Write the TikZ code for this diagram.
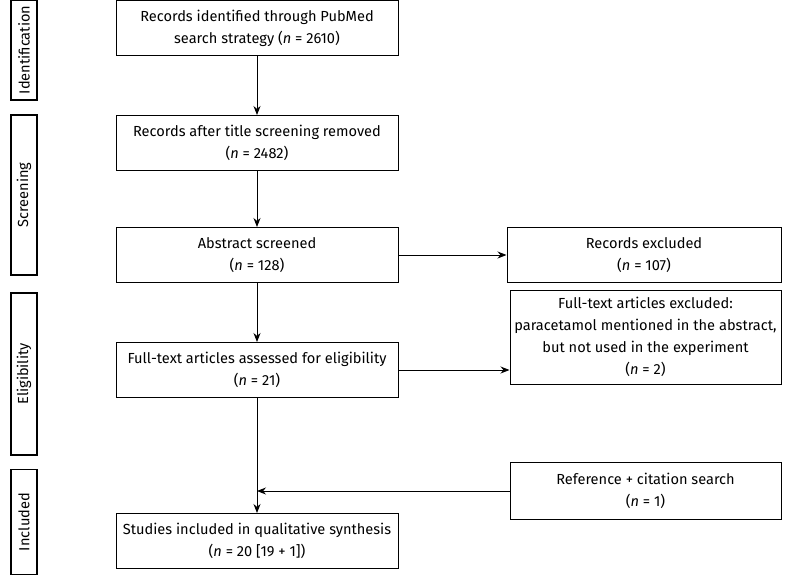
\documentclass[tikz,border=0pt]{standalone}
\usepackage{fontspec}
\setmainfont{Fira Sans}
\usetikzlibrary{arrows.meta}
\begin{document}
\begin{tikzpicture}[x=1pt,y=-1pt,
  box/.style={draw,line width=1pt,align=center,font=\fontsize{14.6}{22}\selectfont},
  side/.style={draw,line width=1.2pt,font=\fontsize{14.6}{16}\selectfont},
  arr/.style={-{Stealth[length=9pt,width=7pt]},line width=0.9pt}]
\useasboundingbox (0,0) rectangle (790,581);
% side labels
\node[side,minimum width=100pt,minimum height=26pt,rotate=90] (s1) at (24,50) {Identification};
\node[side,minimum width=160pt,minimum height=26pt,rotate=90] (s2) at (24,195) {Screening};
\node[side,minimum width=162pt,minimum height=26pt,rotate=90] (s3) at (24,374) {Eligibility};
\node[side,minimum width=105pt,minimum height=26pt,rotate=90] (s4) at (24,522) {Included};
% main boxes
\node[box,minimum width=282pt,minimum height=55pt] (b1) at (257,28) {Records identified through PubMed\\search strategy (\textit{n} = 2610)};
\node[box,minimum width=282pt,minimum height=55pt] (b2) at (257,143) {Records after title screening removed\\(\textit{n} = 2482)};
\node[box,minimum width=282pt,minimum height=55pt] (b3) at (257,255) {Abstract screened\\(\textit{n} = 128)};
\node[box,minimum width=282pt,minimum height=55pt] (b4) at (257,370) {Full-text articles assessed for eligibility\\(\textit{n} = 21)};
\node[box,minimum width=282pt,minimum height=55pt] (b5) at (257,541) {Studies included in qualitative synthesis\\(\textit{n} = 20 [19 + 1])};
% right boxes
\node[box,minimum width=274pt,minimum height=55pt] (r1) at (644,255) {Records excluded\\(\textit{n} = 107)};
\node[box,minimum width=271pt,minimum height=94pt] (r2) at (645.5,337) {Full-text articles excluded:\\paracetamol mentioned in the abstract,\\but not used in the experiment\\(\textit{n} = 2)};
\node[box,minimum width=271pt,minimum height=57pt] (r3) at (645.5,491) {Reference + citation search\\(\textit{n} = 1)};
\coordinate (j) at (257,491);
\draw[arr] (b1) -- (b2);
\draw[arr] (b2) -- (b3);
\draw[arr] (b3) -- (b4);
\draw[arr] (b4) -- (b5);
\draw[arr] (b3) -- (r1);
\draw[arr] (b4.east) -- (r2.west |- b4.east);
\draw[arr] (r3) -- (j);
\end{tikzpicture}
\end{document}
